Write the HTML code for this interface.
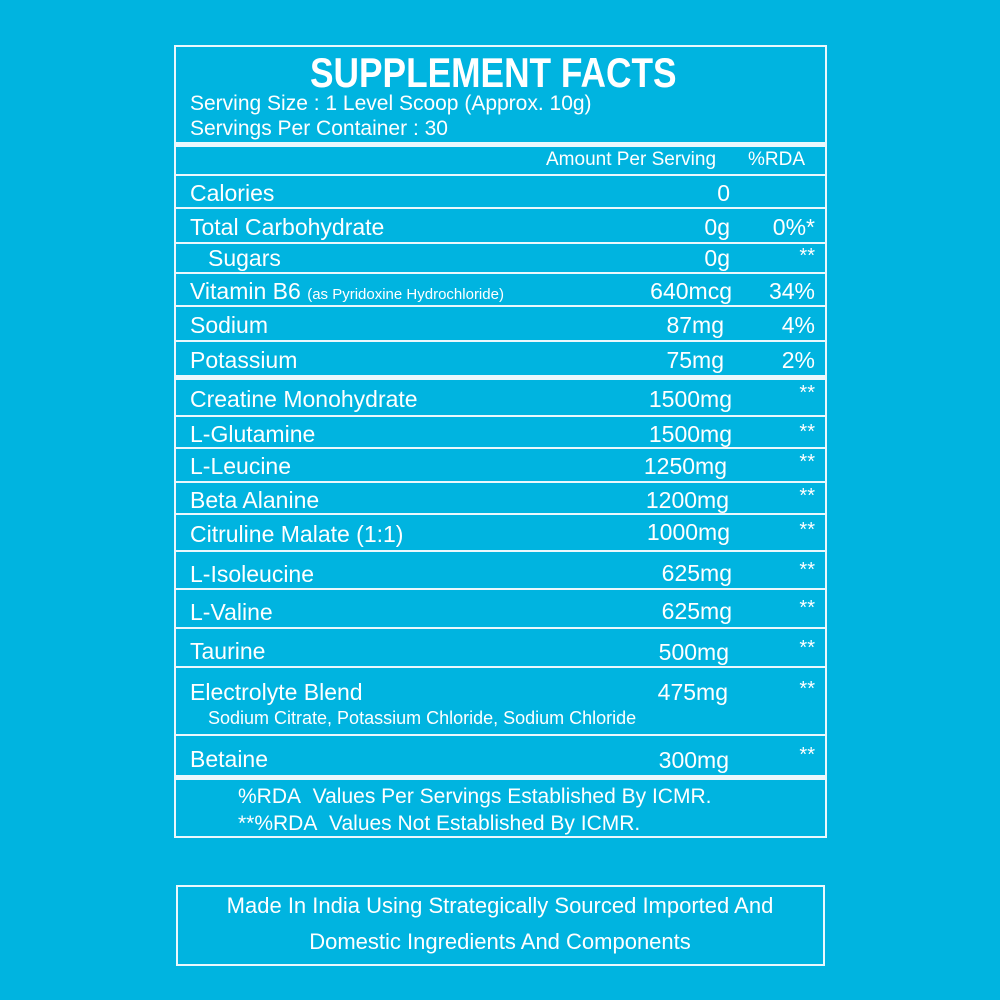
<!DOCTYPE html>
<html><head><style>
body{margin:0;width:1000px;height:1000px;background:#00b4e0;position:relative;overflow:hidden;font-family:"Liberation Sans",sans-serif;color:#fff}
.b{position:absolute;border:2px solid #eaf8fd}
.h{position:absolute;left:176px;width:649px;height:2px;background:#eaf8fd}
.t{position:absolute;white-space:nowrap;font-size:23px;line-height:1}
.r{text-align:right}
.s{font-size:20px;margin-top:-3px}
</style></head><body>
<div class="b" style="left:174px;top:45px;width:649px;height:789px"></div>
<div class="h" style="top:142px;height:5px"></div>
<div class="h" style="top:174px"></div>
<div class="h" style="top:207px"></div>
<div class="h" style="top:242px"></div>
<div class="h" style="top:272px"></div>
<div class="h" style="top:305px"></div>
<div class="h" style="top:340px"></div>
<div class="h" style="top:375px;height:5px"></div>
<div class="h" style="top:415px"></div>
<div class="h" style="top:447px"></div>
<div class="h" style="top:481px"></div>
<div class="h" style="top:513px"></div>
<div class="h" style="top:550px"></div>
<div class="h" style="top:588px"></div>
<div class="h" style="top:627px"></div>
<div class="h" style="top:666px"></div>
<div class="h" style="top:734px"></div>
<div class="h" style="top:775px;height:5px"></div>
<div class="b" style="left:176px;top:885px;width:645px;height:77px"></div>

<div class="t" style="left:310px;top:52px;font-size:42px;font-weight:bold;transform:scaleX(0.84);transform-origin:0 0">SUPPLEMENT FACTS</div>
<div class="t" style="left:190px;top:93px;font-size:21px">Serving Size : 1 Level Scoop (Approx. 10g)</div>
<div class="t" style="left:190px;top:118px;font-size:21px">Servings Per Container : 30</div>
<div class="t" style="left:546px;top:150px;font-size:19px">Amount Per Serving</div>
<div class="t" style="left:748px;top:150px;font-size:19px">%RDA</div>

<div class="t" style="left:190px;top:182px">Calories</div>
<div class="t" style="left:190px;top:216px">Total Carbohydrate</div>
<div class="t" style="left:208px;top:247px">Sugars</div>
<div class="t" style="left:190px;top:280px">Vitamin B6 <span style="font-size:15px">(as Pyridoxine Hydrochloride)</span></div>
<div class="t" style="left:190px;top:314px">Sodium</div>
<div class="t" style="left:190px;top:349px">Potassium</div>
<div class="t" style="left:190px;top:388px">Creatine Monohydrate</div>
<div class="t" style="left:190px;top:423px">L-Glutamine</div>
<div class="t" style="left:190px;top:455px">L-Leucine</div>
<div class="t" style="left:190px;top:489px">Beta Alanine</div>
<div class="t" style="left:190px;top:523px">Citruline Malate (1:1)</div>
<div class="t" style="left:190px;top:563px">L-Isoleucine</div>
<div class="t" style="left:190px;top:601px">L-Valine</div>
<div class="t" style="left:190px;top:640px">Taurine</div>
<div class="t" style="left:190px;top:681px">Electrolyte Blend</div>
<div class="t" style="left:208px;top:709px;font-size:18px">Sodium Citrate, Potassium Chloride, Sodium Chloride</div>
<div class="t" style="left:190px;top:748px">Betaine</div>

<div class="t r" style="right:270px;top:182px">0</div>
<div class="t r" style="right:270px;top:216px">0g</div>
<div class="t r" style="right:270px;top:247px">0g</div>
<div class="t r" style="right:268px;top:280px">640mcg</div>
<div class="t r" style="right:276px;top:314px">87mg</div>
<div class="t r" style="right:276px;top:349px">75mg</div>
<div class="t r" style="right:268px;top:388px">1500mg</div>
<div class="t r" style="right:268px;top:423px">1500mg</div>
<div class="t r" style="right:273px;top:455px">1250mg</div>
<div class="t r" style="right:271px;top:489px">1200mg</div>
<div class="t r" style="right:270px;top:521px">1000mg</div>
<div class="t r" style="right:268px;top:562px">625mg</div>
<div class="t r" style="right:268px;top:600px">625mg</div>
<div class="t r" style="right:271px;top:641px">500mg</div>
<div class="t r" style="right:272px;top:681px">475mg</div>
<div class="t r" style="right:271px;top:749px">300mg</div>

<div class="t r" style="right:185px;top:216px">0%*</div>
<div class="t r s" style="right:185px;top:249px">**</div>
<div class="t r" style="right:185px;top:280px">34%</div>
<div class="t r" style="right:185px;top:314px">4%</div>
<div class="t r" style="right:185px;top:349px">2%</div>
<div class="t r s" style="right:185px;top:386px">**</div>
<div class="t r s" style="right:185px;top:425px">**</div>
<div class="t r s" style="right:185px;top:455px">**</div>
<div class="t r s" style="right:185px;top:489px">**</div>
<div class="t r s" style="right:185px;top:523px">**</div>
<div class="t r s" style="right:185px;top:563px">**</div>
<div class="t r s" style="right:185px;top:601px">**</div>
<div class="t r s" style="right:185px;top:641px">**</div>
<div class="t r s" style="right:185px;top:682px">**</div>
<div class="t r s" style="right:185px;top:748px">**</div>

<div class="t" style="left:238px;top:786px;font-size:21px">%RDA&nbsp; Values Per Servings Established By ICMR.</div>
<div class="t" style="left:238px;top:813px;font-size:21px">**%RDA&nbsp; Values Not Established By ICMR.</div>

<div class="t" style="left:0;width:1000px;text-align:center;top:895px;font-size:22px">Made In India Using Strategically Sourced Imported And</div>
<div class="t" style="left:0;width:1000px;text-align:center;top:931px;font-size:22px">Domestic Ingredients And Components</div>
</body></html>
